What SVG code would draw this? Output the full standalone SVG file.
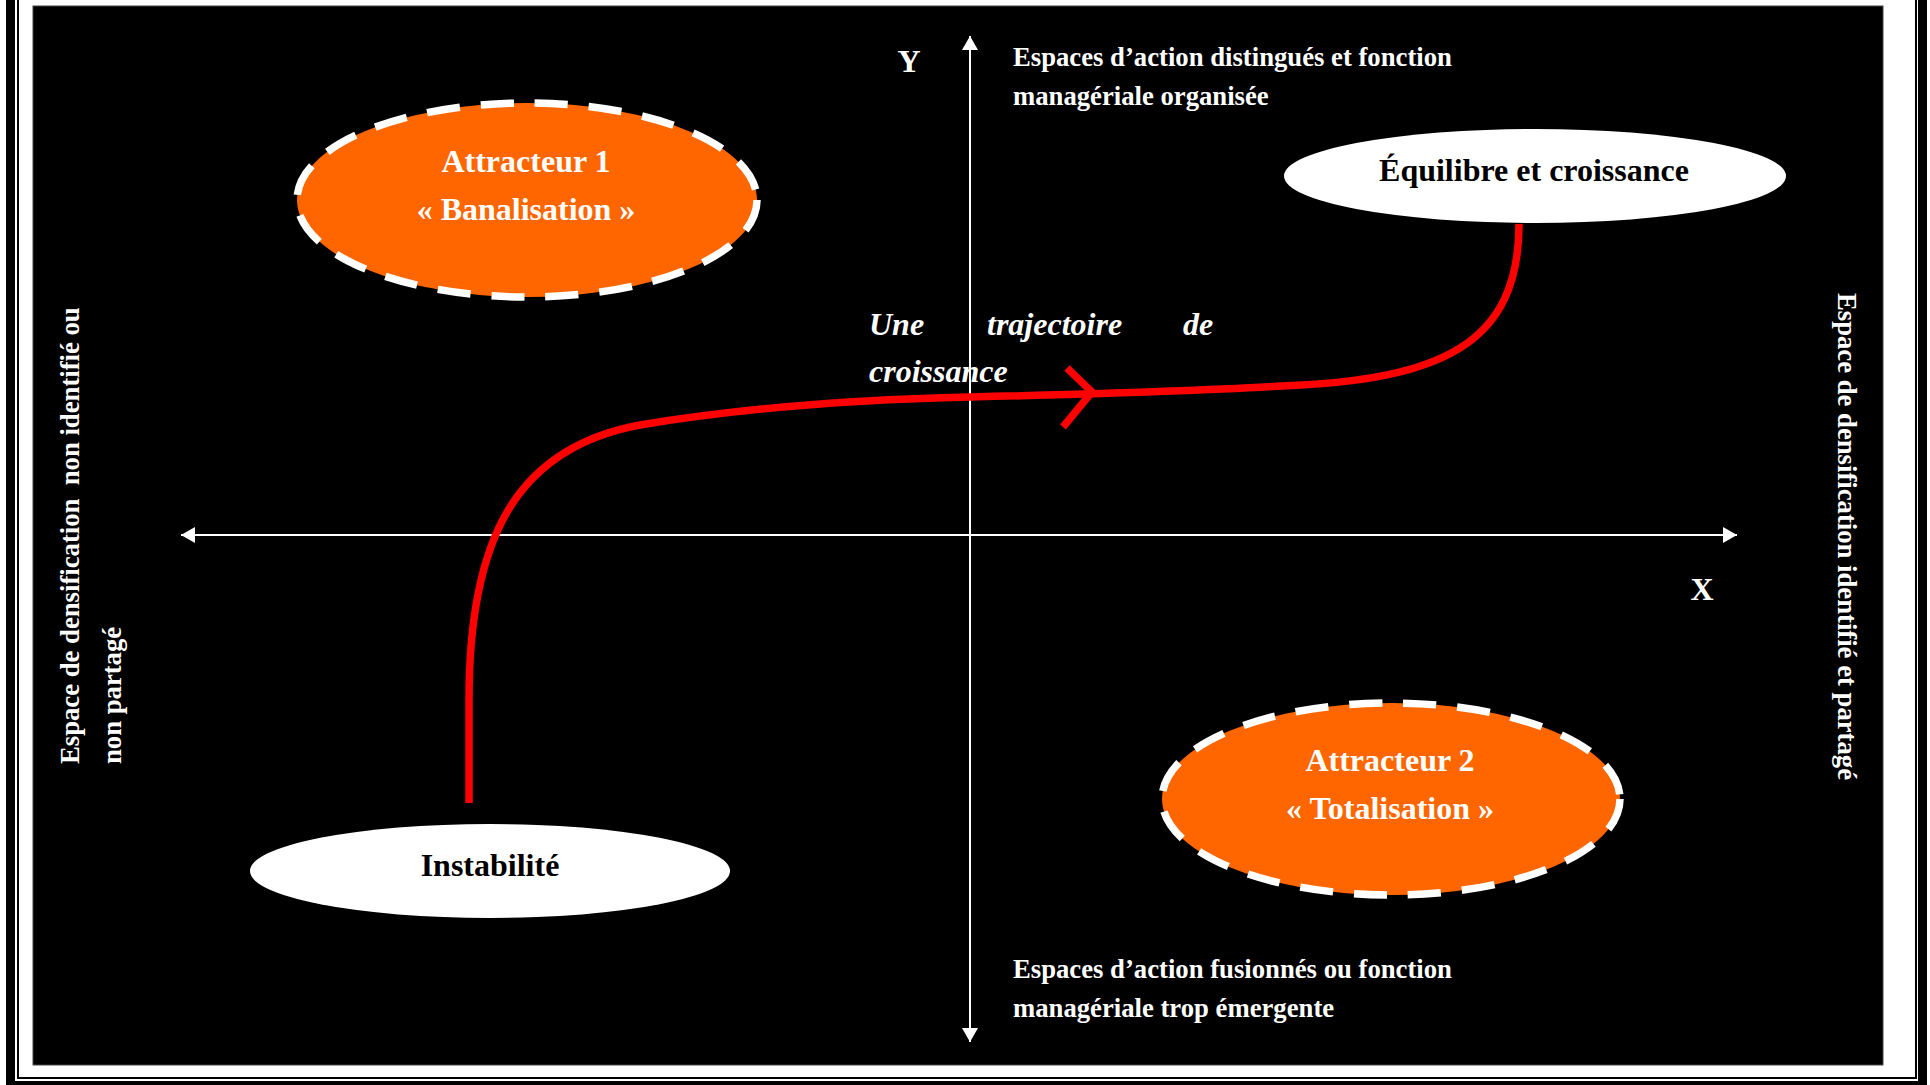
<svg xmlns="http://www.w3.org/2000/svg" width="1930" height="1085" viewBox="0 0 1930 1085">
  <defs>
    <style>
      .lbl { font-family: "Liberation Serif", "Times New Roman", serif; font-weight: bold; fill: #ffffff; }
      .side { font-size: 26.7px; }
      .big { font-size: 32px; }
      .dark { fill: #000000; }
      .attr { fill: #FF6600; stroke: #ffffff; stroke-width: 7.5; stroke-dasharray: 33 21; }
      .plain { fill: #ffffff; }
      .axis { stroke: #ffffff; stroke-width: 2; fill: none; }
      .traj { stroke: #FF0000; stroke-width: 7.5; fill: none; }
    </style>
    <marker id="ah" viewBox="0 0 14 16" refX="14" refY="8" markerWidth="14" markerHeight="16" markerUnits="userSpaceOnUse" orient="auto-start-reverse">
      <path d="M0,0 L14,8 L0,16 Z" fill="#ffffff"/>
    </marker>
  </defs>

  <!-- page background and frame -->
  <rect x="0" y="0" width="1930" height="1085" fill="#ffffff"/>
  <rect x="6" y="0" width="9" height="1085" fill="#000"/>
  <rect x="17" y="0" width="2" height="1079" fill="#000"/>
  <rect x="1915" y="0" width="2" height="1079" fill="#000"/>
  <rect x="1918" y="0" width="9" height="1085" fill="#000"/>
  <rect x="17" y="1077" width="1900" height="2" fill="#000"/>
  <rect x="6" y="1081" width="1921" height="4" fill="#000"/>
  <rect x="33" y="6" width="1850" height="1059" fill="#000" stroke="#444" stroke-width="1"/>

  <!-- connectors: axes and trajectory -->
  <g id="connectors">
    <line class="axis" x1="181" y1="535" x2="1737" y2="535" marker-start="url(#ah)" marker-end="url(#ah)"/>
    <line class="axis" x1="970" y1="36" x2="970" y2="1042" marker-start="url(#ah)" marker-end="url(#ah)"/>
    <path class="traj" d="M469,803 L469,700 C469,540 515,448 640,425 C760,405 880,399 970,397 C1100,394 1200,391 1282,386 C1440,380 1519,345 1519,224"/>
    <polyline class="traj" points="1067,368 1092,392 1063,427"/>
  </g>

  <!-- axis labels -->
  <g id="axis-labels">
    <text class="lbl big" x="909" y="72" text-anchor="middle">Y</text>
    <text class="lbl big" x="1702" y="600" text-anchor="middle">X</text>
  </g>

  <g id="label-top">
    <text class="lbl side" x="1013" y="66">Espaces d’action distingués et fonction</text>
    <text class="lbl side" x="1013" y="105">managériale organisée</text>
  </g>

  <g id="label-bottom">
    <text class="lbl side" x="1013" y="978">Espaces d’action fusionnés ou fonction</text>
    <text class="lbl side" x="1013" y="1017">managériale trop émergente</text>
  </g>

  <g id="label-left">
    <text class="lbl side" transform="translate(79,764) rotate(-90)" xml:space="preserve">Espace de densification  non identifié ou</text>
    <text class="lbl side" transform="translate(121,764) rotate(-90)">non partagé</text>
  </g>

  <g id="label-right">
    <text class="lbl side" transform="translate(1838,293) rotate(90)">Espace de densification identifié et partagé</text>
  </g>

  <g id="label-trajectoire">
    <text class="lbl big" font-style="italic">
      <tspan x="869" y="335">Une</tspan>
      <tspan x="987" y="335">trajectoire</tspan>
      <tspan x="1183" y="335">de</tspan>
      <tspan x="869" y="382">croissance</tspan>
    </text>
  </g>

  <!-- nodes -->
  <g id="attracteur1">
    <ellipse class="attr" cx="527" cy="200" rx="230" ry="97"/>
    <text class="lbl big" x="526" y="172" text-anchor="middle">Attracteur 1</text>
    <text class="lbl big" x="526" y="220" text-anchor="middle">« Banalisation »</text>
  </g>

  <g id="attracteur2">
    <ellipse class="attr" cx="1391" cy="799" rx="229" ry="96"/>
    <text class="lbl big" x="1390" y="771" text-anchor="middle">Attracteur 2</text>
    <text class="lbl big" x="1390" y="819" text-anchor="middle">« Totalisation »</text>
  </g>

  <g id="equilibre">
    <ellipse class="plain" cx="1535" cy="176" rx="251" ry="47"/>
    <text class="lbl big dark" x="1534" y="181" text-anchor="middle">Équilibre et croissance</text>
  </g>

  <g id="instabilite">
    <ellipse class="plain" cx="490" cy="871" rx="240" ry="47"/>
    <text class="lbl big dark" x="490" y="876" text-anchor="middle">Instabilité</text>
  </g>
</svg>
